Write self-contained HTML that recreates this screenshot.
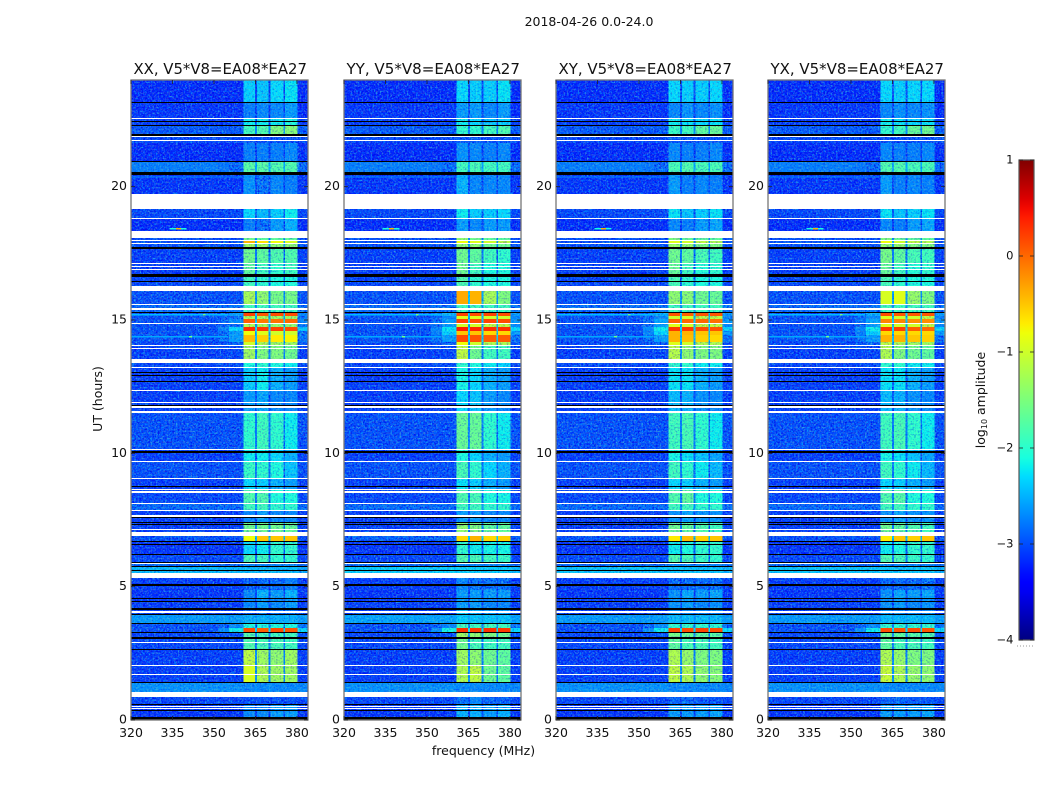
<!DOCTYPE html>
<html><head><meta charset="utf-8"><title>2018-04-26 0.0-24.0</title>
<style>html,body{margin:0;padding:0;background:#fff}svg{display:block}text{font-family:"DejaVu Sans","Liberation Sans",sans-serif;fill:#111}</style>
</head><body>
<svg id="fig" xmlns="http://www.w3.org/2000/svg" width="1050" height="800" viewBox="0 0 1050 800">
<defs>
<filter id="speckleLight" x="0" y="0" width="100%" height="100%"><feTurbulence type="fractalNoise" baseFrequency="0.55" numOctaves="2" seed="4"/><feColorMatrix type="matrix" values="0 0 0 0 0  0 0 0 0 0.6  0 0 0 0 1  4.5 0 0 0 -2.25"/></filter>
<filter id="speckleDark" x="0" y="0" width="100%" height="100%"><feTurbulence type="fractalNoise" baseFrequency="0.55" numOctaves="2" seed="11"/><feColorMatrix type="matrix" values="0 0 0 0 0  0 0 0 0 0  0 0 0 0 0.8  4.5 0 0 0 -2.25"/></filter>
<filter id="speckleWarm" x="0" y="0" width="100%" height="100%"><feTurbulence type="fractalNoise" baseFrequency="0.55" numOctaves="2" seed="23"/><feColorMatrix type="matrix" values="0 0 0 0 0.6  0 0 0 0 1  0 0 0 0 0.3  4.5 0 0 0 -2.25"/></filter>
<linearGradient id="jetGradient" x1="0" y1="1" x2="0" y2="0"></linearGradient>
</defs>
</svg>
<script>
// ---- chart data ----
const panelNames = ["XX", "YY", "XY", "YX"];
const baselineLabel = "V5*V8=EA08*EA27";
const freqTicks = [320, 335, 350, 365, 380];
const hourTicks = [0, 5, 10, 15, 20];
const colorbarTicks = [1, 0, -1, -2, -3, -4];
// frequency columns (MHz): bg, shoulder, near, s1, gap, s2, gap, s3, gap, s4, right
const freqEdges = [320, 351.5, 355.5, 360.6, 364.9, 365.5, 369.8, 370.4, 375.1, 375.7, 380.2, 384];
// time intervals (UT hours), one level row per interval
const timeEdges = [24,23.175,22.575,22.275,21.975,21.64,20.925,20.55,20.44,19.16,18.79,18.34,18.075,17.96,17.85,17.74,17.14,16.65,16.09,15.6,15.26,15.15,15.04,14.85,14.74,14.59,14.44,14.175,14.025,13.39,13.2,12.34,11.51,10.125,9.675,9.075,8.625,8.14,7.84,7.425,6.9,6.71,6.225,5.925,5.74,5.36,4.875,4.575,4.16,3.94,3.6,3.45,3.3,3.075,2.66,2.06,1.425,0.86,0.6,0];
// log10 amplitude per interval: [bg, near, s1, s2, s3, s4, right]
const xxLevels = [
[-3.2,-3.2,-2.35,-2.4,-2.3,-2.25,-3.2],[-3.15,-3.15,-2.75,-2.7,-2.7,-2.6,-3.2],[-3.1,-3.1,-2.2,-2.2,-2.2,-2.1,-3.1],[-2.95,-2.95,-1.9,-1.8,-1.5,-1.45,-2.95],[-3.05,-3.05,-3,-3,-3,-3,-3],[-3.2,-3.2,-2.75,-2.75,-2.75,-2.7,-3.2],[-2.75,-2.85,-1.75,-1.75,-1.8,-1.8,-2.85],[-3,-3,-2.6,-2.6,-2.6,-2.6,-3],[-3.15,-3.15,-2.65,-2.8,-2.7,-2.75,-3.15],
[-3.05,-3.05,-2.3,-2.45,-2.35,-2.2,-3.05],[-3.2,-3.2,-2.75,-2.8,-2.6,-2.5,-3.2],[-3,-3,-2,-2,-2,-2,-3],[-3,-3,-1.6,-1.7,-1.7,-1.7,-3],[-3,-3,-0.4,-0.65,-0.8,-0.95,-3],[-3,-3,-1.3,-1.3,-1.4,-1.4,-3],[-3.1,-3.1,-1.6,-1.7,-1.8,-1.8,-3.1],[-3.1,-3.1,-1.7,-1.9,-2,-1.9,-3.1],[-3.05,-3.05,-1.9,-2,-2.1,-2.1,-3.05],
[-3,-3,-1.25,-1.4,-1.55,-1.55,-3],[-2.85,-2.8,-1.9,-1.9,-1.9,-1.9,-2.8],[-3,-2.6,0.2,0.1,0.15,0.15,-2.7],[-3,-2.8,-1.2,-1.2,-1.3,-1.3,-2.8],[-3,-2.7,0.05,-0.1,-0.05,0,-2.7],[-3,-2.8,-1.2,-1.3,-1.4,-1.4,-2.8],[-3,-2.3,0.3,0.25,0.2,0.15,-2.4],[-3,-2.6,-0.8,-0.9,-1,-1,-2.8],[-3,-2.6,-0.45,-0.55,-0.7,-0.75,-2.8],[-3.05,-2.9,-1,-1.2,-1.3,-1.3,-3],[-3.1,-3.05,-1.3,-1.5,-1.5,-1.6,-3.1],
[-3.05,-3,-2.1,-2,-2.1,-2.2,-3.05],[-3.1,-3.1,-2.35,-2.2,-2.5,-2.6,-3.1],[-3.1,-3.1,-2.6,-2.55,-2.7,-2.7,-3.1],[-3,-3,-2,-1.9,-2,-2.2,-3],[-3.1,-3.1,-2.2,-2.2,-2.3,-2.5,-3.1],[-3,-3,-1.95,-2,-2.1,-2.4,-3],[-3.1,-3.1,-2.3,-2.35,-2.5,-2.6,-3.1],[-3.05,-3.05,-1.8,-1.8,-2.1,-2.1,-3.05],[-2.85,-2.85,-1.9,-1.9,-2,-2,-2.85],[-3.1,-3.1,-2.7,-2.6,-2.7,-2.7,-3.1],[-3.1,-3.1,-1.6,-1.6,-1.6,-1.65,-3.1],
[-3,-3,-0.8,-0.5,-0.5,-0.5,-3],[-3.15,-3.15,-2.3,-2.2,-2,-2,-3.15],[-3.05,-3.05,-1.85,-1.9,-2,-2,-3.05],[-2.85,-2.85,-2.7,-2.7,-2.7,-2.7,-2.85],[-2.45,-2.45,-2.45,-2.45,-2.45,-2.45,-2.55],[-3.1,-3.1,-2.9,-2.85,-2.85,-2.75,-3.1],[-3.15,-3.15,-2.7,-2.5,-2.6,-2.5,-3.15],[-3.1,-3.1,-2.7,-2.6,-2.7,-2.6,-3.1],[-3.1,-3.1,-2.85,-2.8,-2.8,-2.8,-3.1],[-2.6,-2.6,-2.5,-2.5,-2.5,-2.5,-2.6],[-3,-2.7,-2.1,-2.1,-2.1,-2.1,-2.8],[-3,-2.2,0.15,0.05,0.15,0.1,-2.3],[-3.05,-3,-1.8,-1.9,-1.9,-1.9,-3],[-3.05,-3.05,-1.8,-1.85,-1.85,-1.9,-3.05],[-3.1,-3.1,-1.1,-1.3,-1.4,-1.3,-3.1],[-3.1,-3.1,-0.95,-1.2,-1.3,-1.3,-3.1],[-2.65,-2.65,-2.7,-2.7,-2.7,-2.7,-2.7],[-3.05,-3.05,-3,-3,-3,-3,-3.05],[-3.15,-3.15,-2.7,-2.7,-2.6,-2.6,-3.15]];
const yyLevels = [
[-3.2,-3.2,-2.3,-2.35,-2.35,-2.25,-3.2],[-3.15,-3.15,-2.6,-2.6,-2.7,-2.6,-3.2],[-3.1,-3.1,-2.2,-2.3,-2.4,-2.35,-3.1],[-2.95,-2.95,-2,-2,-1.9,-1.8,-2.95],[-3.05,-3.05,-2.95,-2.95,-3,-3,-3],[-3.2,-3.2,-2.65,-2.7,-2.75,-2.7,-3.2],[-2.75,-2.85,-1.9,-1.85,-1.9,-1.9,-2.85],[-3,-3,-2.6,-2.6,-2.6,-2.6,-3],[-3.15,-3.15,-2.5,-2.7,-2.7,-2.7,-3.15],
[-3.05,-3.05,-2.2,-2.35,-2.35,-2.3,-3.05],[-3.2,-3.2,-2.6,-2.7,-2.6,-2.6,-3.2],[-3,-3,-2,-2,-2,-2,-3],[-3,-3,-1.4,-1.6,-1.7,-1.7,-3],[-3,-3,-0.8,-0.9,-1,-1.1,-3],[-3,-3,-1.4,-1.4,-1.6,-1.6,-3],[-3.1,-3.1,-1.6,-1.7,-1.9,-2,-3.1],[-3.1,-3.1,-1.6,-1.9,-2.1,-2.1,-3.1],[-3.05,-3.05,-1.8,-2,-2.1,-2.1,-3.05],
[-3,-3,-0.35,-0.4,-1.25,-1.5,-3],[-2.85,-2.8,-1.9,-1.9,-1.9,-1.9,-2.8],[-3,-2.5,0.2,0.15,0.2,0.15,-2.6],[-3,-2.7,-0.9,-0.9,-1,-1,-2.7],[-3,-2.6,0.2,0.15,0.2,0.15,-2.6],[-3,-2.6,-1,-1,-1.1,-1.1,-2.7],[-3,-2.25,0.4,0.35,0.3,0.3,-2.3],[-3,-2.35,-0.5,-0.5,-0.6,-0.6,-2.6],[-3,-2.6,0.15,0.1,0.05,0.05,-2.8],[-3.05,-2.9,-0.8,-1,-1.2,-1.2,-3],[-3.1,-3.05,-1.1,-1.6,-1.9,-1.9,-3.1],
[-3.05,-3,-2,-2.1,-2.2,-2.3,-3.05],[-3.1,-3.1,-2.15,-2.3,-2.5,-2.6,-3.1],[-3.1,-3.1,-2.3,-2.4,-2.6,-2.7,-3.1],[-3,-3,-1.65,-1.65,-2,-2.2,-3],[-3.1,-3.1,-2.1,-2.3,-2.5,-2.6,-3.1],[-3,-3,-1.85,-2,-2.3,-2.5,-3],[-3.1,-3.1,-2.25,-2.35,-2.5,-2.6,-3.1],[-3.05,-3.05,-1.8,-1.85,-2.1,-2.15,-3.05],[-2.85,-2.85,-1.9,-1.9,-2,-2,-2.85],[-3.1,-3.1,-2.6,-2.6,-2.7,-2.7,-3.1],[-3.1,-3.1,-1.4,-1.5,-1.7,-1.7,-3.1],
[-2.9,-2.9,-0.6,-0.4,-0.6,-0.55,-2.9],[-3.15,-3.15,-2,-2.2,-2.15,-2.15,-3.15],[-3.05,-3.05,-1.8,-1.85,-1.9,-1.95,-3.05],[-2.85,-2.85,-2.7,-2.7,-2.7,-2.7,-2.85],[-2.35,-2.35,-2.35,-2.35,-2.35,-2.35,-2.45],[-3.1,-3.1,-2.7,-2.8,-2.8,-2.8,-3.1],[-3.15,-3.15,-2.6,-2.6,-2.6,-2.6,-3.15],[-3.1,-3.1,-2.6,-2.6,-2.7,-2.7,-3.1],[-3.1,-3.1,-2.4,-2.5,-2.6,-2.6,-3.1],[-2.55,-2.55,-2.35,-2.4,-2.4,-2.4,-2.55],[-3,-2.7,-1.9,-1.9,-1.9,-1.9,-2.8],[-3,-2.15,0.3,0.25,0.3,0.25,-2.3],[-3.05,-3,-1.3,-1.4,-1.5,-1.6,-3],[-3.05,-3.05,-1.6,-1.85,-1.9,-1.9,-3.05],[-3.1,-3.1,-1.3,-1.4,-1.6,-1.7,-3.1],[-3.1,-3.1,-1.2,-1.1,-1.6,-1.7,-3.1],[-2.65,-2.65,-2.7,-2.7,-2.7,-2.7,-2.7],[-3.05,-3.05,-2.8,-2.7,-2.9,-2.9,-3.05],[-3.15,-3.15,-2.5,-2.5,-2.6,-2.5,-3.15]];
const xyLevels = [
[-3.2,-3.2,-2.3,-2.35,-2.35,-2.3,-3.2],[-3.15,-3.15,-2.7,-2.65,-2.7,-2.65,-3.2],[-3.1,-3.1,-2.2,-2.25,-2.3,-2.25,-3.1],[-2.95,-2.95,-1.95,-1.9,-1.7,-1.65,-2.95],[-3.05,-3.05,-3,-3,-3,-3,-3],[-3.2,-3.2,-2.7,-2.75,-2.75,-2.7,-3.2],[-2.75,-2.85,-1.85,-1.8,-1.85,-1.85,-2.85],[-3,-3,-2.6,-2.6,-2.6,-2.6,-3],[-3.15,-3.15,-2.6,-2.75,-2.7,-2.75,-3.15],
[-3.05,-3.05,-2.25,-2.4,-2.35,-2.25,-3.05],[-3.2,-3.2,-2.7,-2.75,-2.6,-2.55,-3.2],[-3,-3,-2,-2,-2,-2,-3],[-3,-3,-1.5,-1.65,-1.7,-1.7,-3],[-3,-3,-0.9,-1,-1.1,-1.2,-3],[-3,-3,-1.35,-1.35,-1.5,-1.5,-3],[-3.1,-3.1,-1.6,-1.7,-1.85,-1.9,-3.1],[-3.1,-3.1,-1.65,-1.9,-2.05,-2,-3.1],[-3.05,-3.05,-1.85,-2,-2.1,-2.1,-3.05],
[-3,-3,-1.4,-1.45,-1.6,-1.65,-3],[-2.85,-2.8,-1.9,-1.9,-1.9,-1.9,-2.8],[-3,-2.5,0.1,0.05,0.1,0.1,-2.6],[-3,-2.7,-1,-1,-1.1,-1.1,-2.75],[-3,-2.55,0.05,0,0,-0.05,-2.6],[-3,-2.6,-0.9,-1,-1.1,-1.1,-2.7],[-3,-2.2,0.25,0.25,0.15,0.1,-2.35],[-3,-2.3,-0.4,-0.4,-0.5,-0.5,-2.6],[-3,-2.6,-0.4,-0.45,-0.55,-0.6,-2.8],[-3.05,-2.9,-0.9,-1,-1.2,-1.2,-3],[-3.1,-3.05,-1.15,-1.4,-1.5,-1.5,-3.1],
[-3.05,-3,-2,-2,-2.2,-2.2,-3.05],[-3.1,-3.1,-2.25,-2.25,-2.5,-2.6,-3.1],[-3.1,-3.1,-2.45,-2.5,-2.65,-2.7,-3.1],[-3,-3,-1.9,-1.85,-2,-2.2,-3],[-3.1,-3.1,-2.15,-2.25,-2.4,-2.55,-3.1],[-3,-3,-1.9,-2,-2.2,-2.45,-3],[-3.1,-3.1,-2.3,-2.35,-2.5,-2.6,-3.1],[-3.05,-3.05,-1.8,-1.7,-2.1,-2.1,-3.05],[-2.85,-2.85,-1.9,-1.9,-2,-2,-2.85],[-3.1,-3.1,-2.65,-2.55,-2.65,-2.65,-3.1],[-3.1,-3.1,-1.6,-1.7,-1.8,-1.9,-3.1],
[-3,-3,-0.7,-0.45,-0.55,-0.5,-3],[-3.15,-3.15,-2.2,-2.1,-2,-2,-3.15],[-3.05,-3.05,-1.8,-1.85,-1.95,-2,-3.05],[-2.85,-2.85,-2.7,-2.7,-2.7,-2.7,-2.85],[-2.4,-2.4,-2.4,-2.4,-2.4,-2.4,-2.5],[-3.1,-3.1,-2.85,-2.85,-2.85,-2.8,-3.1],[-3.15,-3.15,-2.65,-2.55,-2.6,-2.55,-3.15],[-3.1,-3.1,-2.65,-2.6,-2.7,-2.65,-3.1],[-3.1,-3.1,-2.65,-2.7,-2.7,-2.7,-3.1],[-2.6,-2.6,-2.45,-2.45,-2.45,-2.45,-2.6],[-3,-2.7,-2,-2,-2,-2,-2.8],[-3,-2.2,0.2,0.15,0.2,0.15,-2.3],[-3.05,-3,-1.55,-1.65,-1.7,-1.75,-3],[-3.05,-3.05,-1.7,-1.85,-1.85,-1.9,-3.05],[-3.1,-3.1,-1.2,-1.35,-1.5,-1.5,-3.1],[-3.1,-3.1,-1.1,-1.2,-1.4,-1.45,-3.1],[-2.65,-2.65,-2.7,-2.7,-2.7,-2.7,-2.7],[-3.05,-3.05,-2.9,-2.85,-2.95,-2.95,-3.05],[-3.15,-3.15,-2.6,-2.6,-2.6,-2.55,-3.15]];
const yxLevels = [
[-3.2,-3.2,-2.3,-2.35,-2.3,-2.3,-3.2],[-3.15,-3.15,-2.7,-2.65,-2.7,-2.65,-3.2],[-3.1,-3.1,-2.2,-2.25,-2.3,-2.25,-3.1],[-2.95,-2.95,-2,-1.9,-1.65,-1.6,-2.95],[-3.05,-3.05,-3,-3,-3,-3,-3],[-3.2,-3.2,-2.7,-2.75,-2.75,-2.7,-3.2],[-2.75,-2.85,-1.8,-1.8,-1.85,-1.85,-2.85],[-3,-3,-2.6,-2.6,-2.6,-2.6,-3],[-3.15,-3.15,-2.6,-2.75,-2.7,-2.75,-3.15],
[-3.05,-3.05,-2.25,-2.4,-2.35,-2.25,-3.05],[-3.2,-3.2,-2.7,-2.75,-2.6,-2.55,-3.2],[-3,-3,-2,-2,-2,-2,-3],[-3,-3,-1.5,-1.65,-1.7,-1.7,-3],[-3,-3,-0.8,-1,-1.1,-1.2,-3],[-3,-3,-1.35,-1.35,-1.5,-1.5,-3],[-3.1,-3.1,-1.55,-1.7,-1.85,-1.9,-3.1],[-3.1,-3.1,-1.65,-1.9,-2.05,-2,-3.1],[-3.05,-3.05,-1.85,-2,-2.1,-2.1,-3.05],
[-3,-3,-0.95,-0.9,-1.35,-1.5,-3],[-2.85,-2.8,-1.9,-1.9,-1.9,-1.9,-2.8],[-3,-2.5,0.15,0.1,0.1,0.1,-2.6],[-3,-2.7,-0.9,-1,-1,-1.1,-2.75],[-3,-2.55,-0.15,-0.15,-0.2,-0.2,-2.6],[-3,-2.6,-0.9,-1,-1,-1.1,-2.7],[-3,-2.2,0.25,0.2,0.05,0,-2.35],[-3,-2.35,-0.6,-0.6,-0.6,-0.6,-2.6],[-3,-2.6,-0.4,-0.4,-0.5,-0.55,-2.8],[-3.05,-2.9,-1.1,-1.2,-1.3,-1.3,-3],[-3.1,-3.05,-1.2,-1.5,-1.6,-1.7,-3.1],
[-3.05,-3,-2,-2,-2.2,-2.2,-3.05],[-3.1,-3.1,-2.25,-2.25,-2.5,-2.6,-3.1],[-3.1,-3.1,-2.45,-2.5,-2.65,-2.7,-3.1],[-3,-3,-1.9,-1.85,-2,-2.2,-3],[-3.1,-3.1,-2.15,-2.25,-2.4,-2.55,-3.1],[-3,-3,-1.9,-2,-2.2,-2.45,-3],[-3.1,-3.1,-2.3,-2.35,-2.5,-2.6,-3.1],[-3.05,-3.05,-1.8,-1.75,-2.1,-2.1,-3.05],[-2.85,-2.85,-1.9,-1.9,-2,-2,-2.85],[-3.1,-3.1,-2.65,-2.55,-2.65,-2.65,-3.1],[-3.1,-3.1,-1.6,-1.7,-1.8,-1.9,-3.1],
[-3,-3,-0.7,-0.5,-0.55,-0.5,-3],[-3.15,-3.15,-2.2,-2.1,-2,-2,-3.15],[-3.05,-3.05,-1.8,-1.85,-1.95,-2,-3.05],[-2.85,-2.85,-2.7,-2.7,-2.7,-2.7,-2.85],[-2.4,-2.4,-2.4,-2.4,-2.4,-2.4,-2.5],[-3.1,-3.1,-2.85,-2.85,-2.85,-2.8,-3.1],[-3.15,-3.15,-2.65,-2.55,-2.6,-2.55,-3.15],[-3.1,-3.1,-2.65,-2.6,-2.7,-2.65,-3.1],[-3.1,-3.1,-2.65,-2.7,-2.7,-2.7,-3.1],[-2.6,-2.6,-2.45,-2.45,-2.45,-2.45,-2.6],[-3,-2.7,-2,-2,-2,-2,-2.8],[-3,-2.2,0.15,0.1,0.15,0.1,-2.3],[-3.05,-3,-1.6,-1.7,-1.75,-1.8,-3],[-3.05,-3.05,-1.7,-1.85,-1.85,-1.9,-3.05],[-3.1,-3.1,-1.2,-1.35,-1.5,-1.5,-3.1],[-3.1,-3.1,-1.05,-1.2,-1.35,-1.4,-3.1],[-2.65,-2.65,-2.7,-2.7,-2.7,-2.7,-2.7],[-3.05,-3.05,-2.9,-2.85,-2.95,-2.95,-3.05],[-3.15,-3.15,-2.6,-2.6,-2.6,-2.55,-3.15]];
// flagged (no data) time ranges in UT hours
const whiteFlagged = [[22.53,22.57],[21.86,21.91],[21.7,21.74],[19.17,19.72],[18.8,18.84],[18.07,18.34],[17.96,18],[17.84,17.89],[17.1,17.14],[16.99,17.02],[16.87,16.92],[16.09,16.27],[15.56,15.61],[15.38,15.45],[14.85,14.89],[14.02,14.06],[13.91,13.96],[13.39,13.54],[13.2,13.24],[12.34,12.38],[11.89,11.93],[11.7,11.76],[11.51,11.57],[10.12,10.16],[9.66,9.71],[9.04,9.08],[8.62,8.67],[8.52,8.57],[8.1,8.14],[7.82,7.86],[7.62,7.68],[7.13,7.16],[6.9,7.05],[5.85,5.89],[5.34,5.52],[4.01,4.09],[2.88,2.925],[2.04,2.08],[1.7,1.74],[0.87,1.05],[0.49,0.54],[0.4,0.44]];
const blackFlagged = [[23.14,23.175],[22.41,22.45],[22.275,22.31],[21.91,21.99],[20.925,20.96],[20.53,20.56],[20.44,20.51],[17.66,17.74],[16.63,16.71],[16.41,16.45],[15.26,15.3],[13.01,13.05],[12.9,12.94],[12.69,12.73],[11.79,11.83],[10.01,10.09],[8.73,8.775],[7.56,7.61],[7.39,7.44],[7.3,7.35],[6.66,6.71],[6.56,6.6],[6.19,6.225],[5.89,5.94],[5.74,5.775],[5.58,5.625],[5.04,5.09],[4.53,4.575],[4.41,4.45],[4.14,4.19],[3.92,3.96],[3.59,3.64],[3.26,3.31],[3.04,3.1],[2.63,2.67],[1.38,1.43],[0.56,0.6],[0.32,0.375],[0,0.13]];
// narrow interference features: hour, start MHz, end MHz, level
const rfiHour = [18.42,18.42,15.2,15.2,14.37,14.37,13.95,20.36];
const rfiFreqStart = [334,336.3,320,346,320,341,330,320];
const rfiFreqEnd = [340,338,355,347,355,342,355,360];
const rfiLevel = [-2.1,-0.4,-2.45,-1.6,-2.55,-1.6,-2.7,-2.7];

// ---- axis functions ----
const NS = "http://www.w3.org/2000/svg";
const fig = document.getElementById("fig");
const panelLefts = [131, 344, 556, 768];
const PLOT_W = 177, PLOT_TOP = 80, PLOT_BOTTOM = 720;
function xScale(left, f) { return left + (f - 320) * PLOT_W / 64; }
function yScale(h) { return PLOT_BOTTOM - h * (PLOT_BOTTOM - PLOT_TOP) / 24; }
function jet(v) {
  const t = Math.max(0, Math.min(1, (v + 4) / 5));
  const ramp = (pts) => { for (let i = 1; i < pts.length; i++) { if (t <= pts[i][0]) { const a = pts[i-1], b = pts[i]; return a[1] + (b[1]-a[1]) * (t-a[0]) / (b[0]-a[0]); } } return pts[pts.length-1][1]; };
  const r = ramp([[0,0],[0.35,0],[0.66,1],[0.89,1],[1,0.5]]);
  const g = ramp([[0,0],[0.125,0],[0.375,1],[0.64,1],[0.91,0],[1,0]]);
  const b = ramp([[0,0.5],[0.11,1],[0.34,1],[0.65,0],[1,0]]);
  return "rgb(" + Math.round(r*255) + "," + Math.round(g*255) + "," + Math.round(b*255) + ")";
}
function makeEl(tag, attrs, parent) {
  const el = document.createElementNS(NS, tag);
  for (const k in attrs) el.setAttribute(k, attrs[k]);
  parent.appendChild(el);
  return el;
}
function cellLevel(row, col) {
  if (col === 0) return row[0];
  if (col === 1) return row[0] + 0.4 * (row[1] - row[0]);
  if (col === 2) return row[1];
  if (col === 3) return row[2];
  if (col === 5) return row[3];
  if (col === 7) return row[4];
  if (col === 9) return row[5];
  if (col === 10) return row[6];
  const left = col === 4 ? row[2] : col === 6 ? row[3] : row[4];
  const right = col === 4 ? row[3] : col === 6 ? row[4] : row[5];
  return row[0] + 0.22 * ((left + right) / 2 - row[0]);
}

// ---- draw panels ----
const levelTables = [xxLevels, yyLevels, xyLevels, yxLevels];
panelNames.forEach((name, p) => {
  const left = panelLefts[p];
  const levels = levelTables[p];
  const g = makeEl("g", {}, fig);
  
  
  const coolLayer = makeEl("g", {"shape-rendering": "crispEdges"}, g);
  
  
  const textureLayer = makeEl("g", {}, g);
  
  
  const midLayer = makeEl("g", {"shape-rendering": "crispEdges"}, g);
  
  
  const midTexture = makeEl("g", {}, g);
  
  
  const hotLayer = makeEl("g", {"shape-rendering": "crispEdges"}, g);
  
  
  levels.forEach((row, i) => {
    const y0 = yScale(timeEdges[i]), y1 = yScale(timeEdges[i + 1]);
    for (let c = 0; c < freqEdges.length - 1; c++) {
      const v = cellLevel(row, c);
      const x0 = xScale(left, freqEdges[c]), x1 = xScale(left, freqEdges[c + 1]);
      const layer = v > -1.05 ? hotLayer : v > -2.8 ? midLayer : coolLayer;
      const cell = makeEl("rect", {x: x0, y: y0, width: x1 - x0, height: y1 - y0, fill: jet(v)}, layer);
      
      
    }
  });
  rfiHour.forEach((h, i) => {
    const x0 = xScale(left, rfiFreqStart[i]), x1 = xScale(left, rfiFreqEnd[i]);
    const mark = makeEl("rect", {x: x0, y: yScale(h) - 0.6, width: x1 - x0, height: 1.2, fill: jet(rfiLevel[i])}, hotLayer);
    
    
  });
  const plotBox = {x: left, y: PLOT_TOP, width: PLOT_W, height: PLOT_BOTTOM - PLOT_TOP, fill: "#000"};
  makeEl("rect", Object.assign({filter: "url(#speckleLight)", opacity: 0.5}, plotBox), textureLayer);
  makeEl("rect", Object.assign({filter: "url(#speckleDark)", opacity: 0.55}, plotBox), textureLayer);
  makeEl("rect", Object.assign({filter: "url(#speckleDark)", opacity: 0.3}, plotBox), midTexture);
  makeEl("rect", Object.assign({filter: "url(#speckleWarm)", opacity: 0.22}, plotBox), midTexture);
  whiteFlagged.forEach((b) => {
    const top = Math.round(yScale(b[1]));
    const band = makeEl("rect", {x: left, y: top, width: PLOT_W, height: Math.max(1, Math.round(yScale(b[0])) - top), fill: "#fff", "shape-rendering": "crispEdges"}, g);
    
    
  });
  blackFlagged.forEach((b) => {
    const top = Math.round(yScale(b[1]));
    const band = makeEl("rect", {x: left, y: top, width: PLOT_W, height: Math.max(1, Math.round(yScale(b[0])) - top), fill: "#000", "shape-rendering": "crispEdges"}, g);
    
    
  });
  const frame = makeEl("rect", {x: left, y: PLOT_TOP, width: PLOT_W, height: PLOT_BOTTOM - PLOT_TOP, fill: "none", stroke: "#777", "stroke-width": 1.3}, g);
  
  
  const title = makeEl("text", {x: left + PLOT_W / 2 + 0.7, y: 74, "text-anchor": "middle", "font-size": 15.5, textLength: 173.5, lengthAdjust: "spacingAndGlyphs"}, g);
  title.textContent = name + ", " + baselineLabel;
  
  
  freqTicks.forEach((f) => {
    const x = xScale(left, f);
    const bt = makeEl("line", {x1: x, x2: x, y1: PLOT_BOTTOM, y2: PLOT_BOTTOM - 4, stroke: "#222", "stroke-width": 0.8}, g);
    
    
    const tt = makeEl("line", {x1: x, x2: x, y1: PLOT_TOP, y2: PLOT_TOP + 4, stroke: "#222", "stroke-width": 0.8}, g);
    
    
    const label = makeEl("text", {x: x, y: 737, "text-anchor": "middle", "font-size": 12.5}, g);
    label.textContent = f;
    
    
  });
  hourTicks.forEach((h) => {
    const y = yScale(h);
    const lt = makeEl("line", {x1: left, x2: left + 4, y1: y, y2: y, stroke: "#222", "stroke-width": 0.8}, g);
    
    
    const rt = makeEl("line", {x1: left + PLOT_W, x2: left + PLOT_W - 4, y1: y, y2: y, stroke: "#222", "stroke-width": 0.8}, g);
    
    
    const label = makeEl("text", {x: left - 4, y: y + 3.5, "text-anchor": "end", "font-size": 12.5}, g);
    label.textContent = h;
    
    
  });
});

// ---- figure labels ----
const suptitle = makeEl("text", {x: 589, y: 26, "text-anchor": "middle", "font-size": 12.5}, fig);
suptitle.textContent = "2018-04-26 0.0-24.0";


const xTitle = makeEl("text", {x: 483.5, y: 755, "text-anchor": "middle", "font-size": 12.5}, fig);
xTitle.textContent = "frequency (MHz)";


const yTitle = makeEl("text", {x: 102, y: 399, "text-anchor": "middle", "font-size": 12.5, transform: "rotate(-90 102 399)"}, fig);
yTitle.textContent = "UT (hours)";



// ---- colorbar ----
const CB_X = 1019, CB_W = 15, CB_TOP = 160, CB_BOTTOM = 640;
function cbY(v) { return CB_BOTTOM - (v + 4) * (CB_BOTTOM - CB_TOP) / 5; }
const cbGroup = makeEl("g", {}, fig);


const grad = document.getElementById("jetGradient");
for (let s = 0; s <= 50; s++) { makeEl("stop", {offset: (s * 2) + "%", "stop-color": jet(-4 + s / 10)}, grad); }
const cbRect = makeEl("rect", {x: CB_X, y: CB_TOP, width: CB_W, height: CB_BOTTOM - CB_TOP, fill: "url(#jetGradient)", stroke: "#555", "stroke-width": 1.2}, cbGroup);


colorbarTicks.forEach((v) => {
  const y = cbY(v);
  const t1 = makeEl("line", {x1: CB_X, x2: CB_X + 4, y1: y, y2: y, stroke: "#222", "stroke-width": 0.8}, cbGroup);
  
  
  const t2 = makeEl("line", {x1: CB_X + CB_W, x2: CB_X + CB_W - 4, y1: y, y2: y, stroke: "#222", "stroke-width": 0.8}, cbGroup);
  
  
  const label = makeEl("text", {x: 1013.5, y: y + 3.5, "text-anchor": "end", "font-size": 11.5}, cbGroup);
  label.textContent = String(v).replace("-", "\u2212");
  
  
});
const cbTitle = makeEl("text", {x: 985, y: 400, "text-anchor": "middle", "font-size": 12.5, transform: "rotate(-90 985 400)"}, cbGroup);


cbTitle.appendChild(document.createTextNode("log"));
const sub = makeEl("tspan", {"font-size": 8, dy: 2}, cbTitle);
sub.textContent = "10";
const rest = makeEl("tspan", {dy: -2}, cbTitle);
rest.textContent = " amplitude";
const dots = makeEl("line", {x1: 1017, x2: 1034, y1: 646, y2: 646, stroke: "#999", "stroke-width": 1, "stroke-dasharray": "1 2"}, cbGroup);


</script>
</body></html>
